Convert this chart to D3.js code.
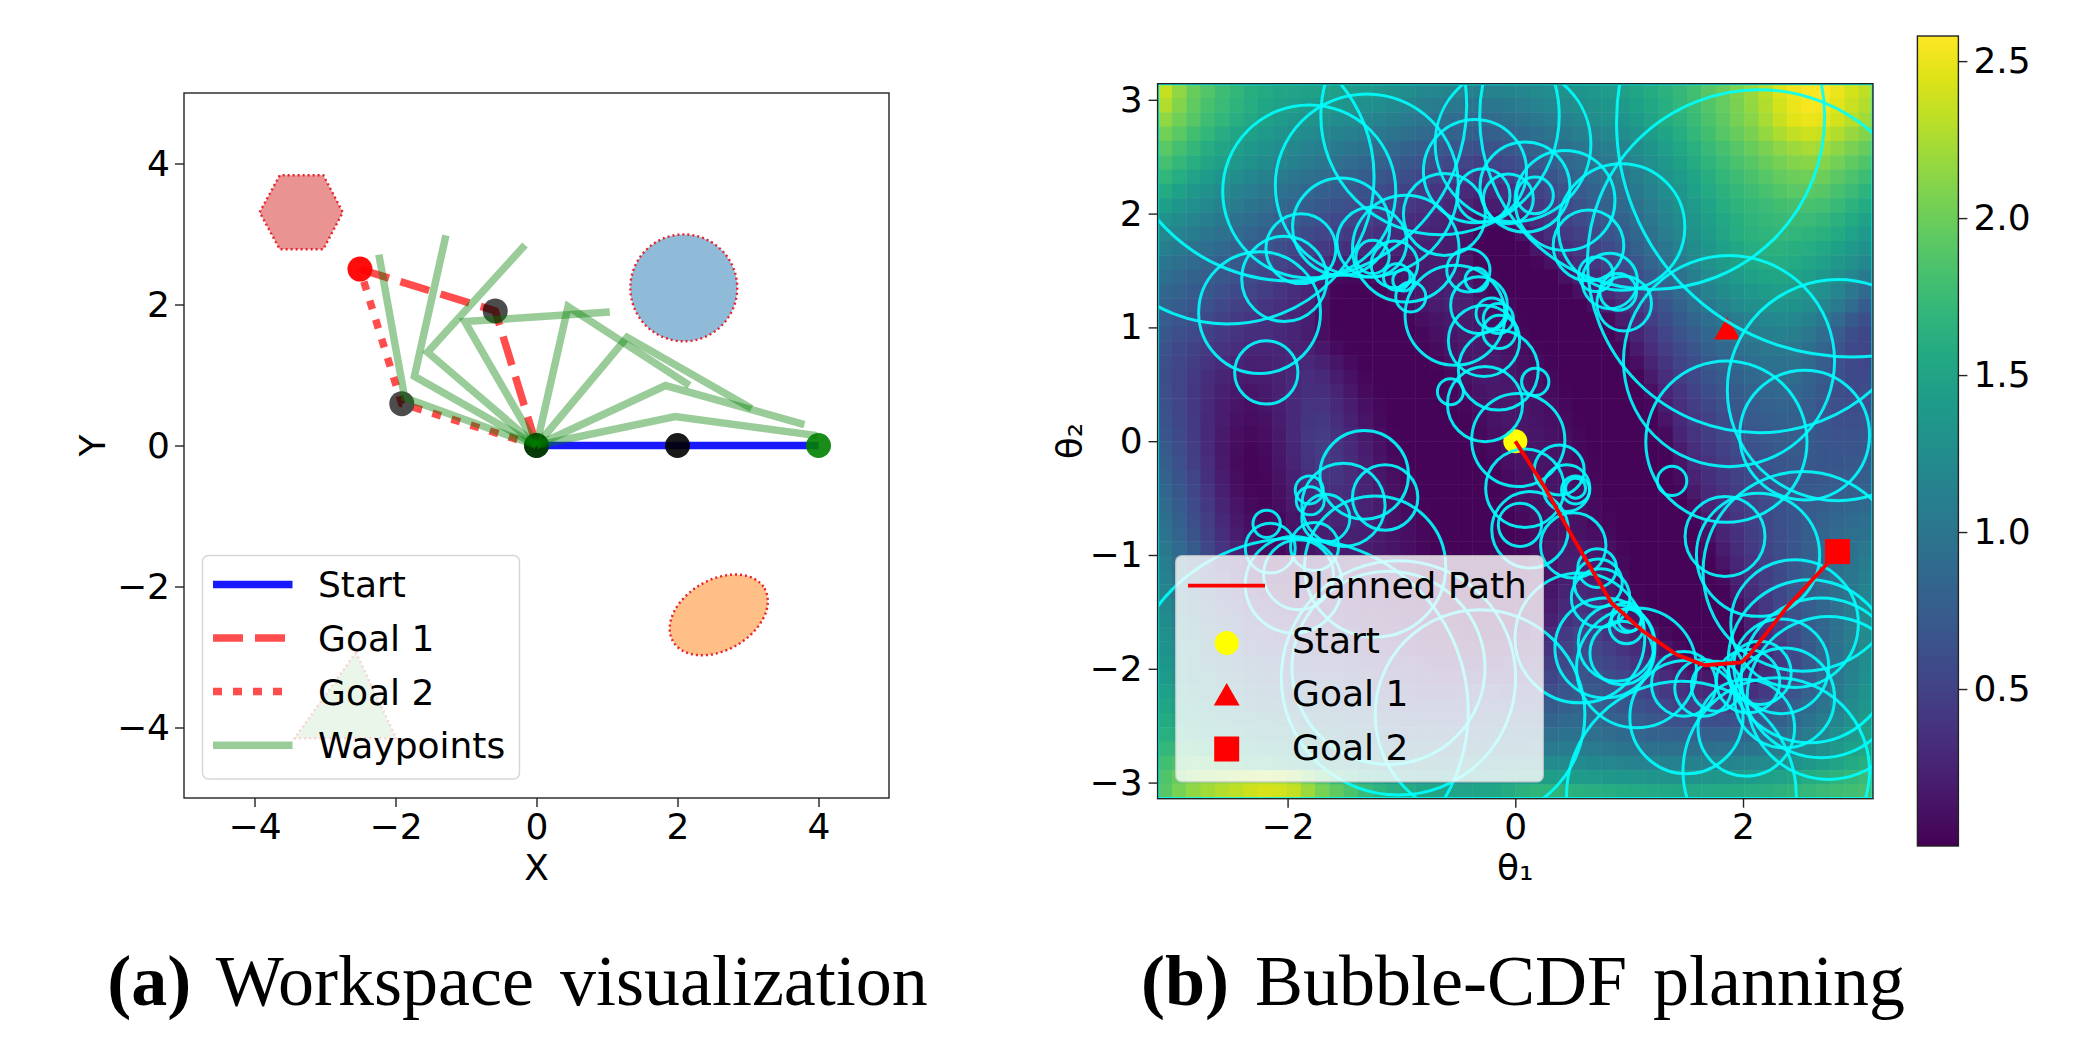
<!DOCTYPE html>
<html>
<head>
<meta charset="utf-8">
<script src="https://cdn.jsdelivr.net/npm/d3@7"></script>
<style>
  body { margin: 0; background: #fff; }
  text { font-family: "DejaVu Sans", sans-serif; }
</style>
</head>
<body>
<div id="chart"></div>
<script>
// workspace panel: link polylines as [x, y] joints
const startArm = [[0, 0], [2, 0], [4, 0]];
const goalOneArm = [[0, 0], [-0.585, 1.909], [-2.504, 2.502]];
const goalTwoArm = [[0, 0], [-1.911, 0.593], [-2.504, 2.502]];
const waypointArms = [
    [[0, 0], [1.967, 0.411], [3.98, 0.14]],
    [[0, 0], [1.83, 0.85], [3.80, 0.297]],
    [[0, 0], [1.285, 1.536], [3.05, 0.525]],
    [[0, 0], [0.447, 1.97], [2.17, 0.852]],
    [[0, 0], [-1.016, 1.757], [1.04, 1.894]],
    [[0, 0], [-1.545, 1.323], [-0.163, 2.844]],
    [[0, 0], [-1.732, 0.981], [-1.285, 2.981]],
    [[0, 0], [-1.870, 0.677], [-2.236, 2.707]]
];
const hexagonObstacle = [[-3.927, 3.308], [-3.642, 3.833], [-3.024, 3.833], [-2.748, 3.308], [-3.024, 2.783], [-3.642, 2.783]];
const triangleObstacle = [[-2.561, -2.935], [-3.431, -4.152], [-1.992, -4.152]];
const circleObstacle = [2.089, 2.236, 0.758];
const ellipseObstacle = [2.585, -2.403, 0.75, 0.5, 30];
const workspaceTicks = [-4, -2, 0, 2, 4];

// planning panel: field values x100, one row per theta2 from top to bottom
const fieldRows = [
[235,215,198,188,178,170,163,157,152,150,148,146,144,142,140,135,130,125,120,118,115,113,112,113,115,118,122,126,130,134,138,141,145,152,158,165,172,180,190,198,208,218,230,245,252,256,258,250,240,232],
[228,210,195,183,175,167,160,153,148,144,141,139,137,133,129,125,120,115,110,106,103,101,100,101,104,108,113,118,123,128,132,136,140,147,154,162,170,178,188,196,206,216,228,240,250,255,254,246,236,228],
[215,202,190,178,170,162,155,148,142,137,134,130,126,122,118,114,110,105,100,96,92,90,88,90,94,98,103,108,114,120,125,130,134,142,150,158,166,175,185,194,204,212,224,236,246,250,248,240,230,222],
[203,192,180,170,161,153,146,139,133,128,123,119,115,111,107,102,98,93,88,84,80,78,76,78,82,87,92,98,104,110,115,120,125,133,142,151,160,170,180,190,198,206,216,226,234,238,236,228,218,210],
[192,181,171,161,152,145,138,131,125,119,114,109,105,100,96,91,86,81,76,72,68,65,63,66,70,75,81,88,94,100,105,110,115,124,134,144,154,164,174,182,190,198,206,214,220,224,222,214,206,198],
[182,172,162,152,145,138,130,124,118,112,106,100,95,90,85,80,75,70,65,60,56,52,50,54,58,64,70,77,84,90,96,102,108,118,128,138,148,158,168,176,184,190,198,204,210,212,210,203,195,187],
[170,160,150,142,134,126,118,112,106,100,95,90,84,80,74,70,65,60,55,50,45,41,38,42,47,53,60,67,75,82,88,94,100,110,120,131,141,151,161,170,178,184,190,196,200,202,200,193,185,177],
[158,148,138,130,122,115,108,102,96,90,84,78,74,70,64,60,55,50,45,40,35,31,27,30,36,42,50,58,66,73,80,87,93,104,114,125,135,146,156,165,172,178,183,188,192,192,190,183,175,167],
[145,136,127,120,112,106,99,93,87,82,76,70,66,61,56,51,46,41,37,33,28,24,18,20,26,33,42,50,58,66,73,80,87,98,108,119,130,140,150,160,167,172,176,180,182,183,181,174,166,158],
[132,124,116,110,104,97,90,84,78,73,67,61,57,52,47,42,38,34,31,28,24,18,10,11,16,25,33,42,50,58,66,73,80,91,102,113,124,135,145,155,163,168,172,174,175,175,172,165,157,149],
[120,113,106,100,95,88,82,76,70,64,58,52,48,43,39,35,31,28,27,25,22,14,5,3,4,14,24,34,42,50,58,66,74,85,97,108,119,130,142,152,160,165,168,170,169,167,164,157,149,140],
[110,104,97,92,86,80,73,67,61,55,49,43,38,34,30,27,24,23,23,22,20,12,3,3,3,4,15,25,34,42,50,58,66,78,90,101,112,124,136,146,154,160,164,165,163,160,155,147,139,130],
[100,94,88,83,78,72,65,58,52,46,40,33,22,20,18,17,17,18,19,20,20,15,7,3,3,3,5,12,24,33,42,50,58,70,82,94,105,118,130,140,148,154,158,159,156,152,146,138,130,120],
[92,86,80,76,70,64,58,52,46,40,34,24,8,6,7,10,13,16,18,20,22,18,10,4,3,3,3,3,12,23,32,41,49,61,73,85,96,110,122,133,141,147,151,152,149,144,138,128,118,105],
[85,80,74,70,63,57,52,46,40,34,28,16,4,3,3,5,10,14,18,21,24,21,13,7,3,3,3,3,4,11,23,32,41,53,65,77,88,101,113,124,132,138,142,144,141,135,128,117,102,88],
[80,74,68,64,56,50,46,40,35,30,24,12,3,3,3,3,5,11,16,20,24,23,17,10,6,3,3,3,3,3,10,22,32,44,56,68,80,92,103,114,122,128,132,134,131,125,117,105,90,74],
[75,68,62,56,50,44,40,36,32,27,22,10,3,3,3,3,3,5,10,14,18,19,16,11,7,4,3,3,3,3,3,8,20,34,47,60,72,82,92,100,107,113,118,121,118,112,103,88,72,62],
[70,62,56,50,44,38,34,33,30,26,20,10,4,3,3,3,3,3,6,11,15,18,18,14,10,6,3,3,3,3,3,3,12,26,40,53,65,75,85,93,100,106,110,112,110,102,90,75,60,55],
[65,56,50,44,38,33,28,27,28,26,24,16,8,4,3,3,3,3,4,8,13,17,18,16,12,9,5,3,3,3,3,3,4,18,33,46,58,68,78,86,92,98,102,104,102,94,82,68,57,54],
[62,54,46,38,31,26,23,24,26,28,30,24,15,8,3,3,3,3,3,5,11,15,18,18,15,11,8,4,3,3,3,3,3,10,26,40,52,62,72,80,86,92,96,97,95,87,76,64,56,55],
[60,52,44,34,26,21,19,21,25,29,33,30,21,12,5,3,3,3,3,3,7,12,17,18,16,13,10,6,3,3,3,3,3,4,18,33,46,56,66,73,80,86,90,91,90,82,72,63,57,57],
[61,52,42,32,23,17,14,18,24,30,36,34,26,16,8,4,3,3,3,3,5,9,14,17,17,15,11,8,4,3,3,3,3,3,11,27,40,51,60,68,74,80,84,86,85,78,70,62,58,59],
[63,54,42,31,21,14,11,15,22,30,38,38,30,20,11,6,3,3,3,3,3,6,11,15,17,16,13,10,6,3,3,3,3,3,5,21,35,46,55,63,70,75,79,82,81,75,68,62,60,62],
[65,55,43,30,20,12,9,12,20,30,40,42,34,24,14,7,3,3,3,3,3,4,8,13,16,16,14,11,8,4,3,3,3,3,3,14,30,42,50,58,65,71,75,78,78,74,68,63,62,65],
[68,57,44,30,18,10,7,10,18,29,41,45,38,27,17,9,4,3,3,3,3,3,6,11,14,16,15,12,9,5,3,3,3,3,3,8,26,38,46,54,61,67,71,74,75,72,68,65,65,68],
[72,60,46,31,17,9,5,8,17,28,40,46,40,30,20,12,6,3,3,3,3,3,4,8,13,15,15,13,11,6,3,3,3,3,3,4,20,34,42,50,58,63,68,71,72,71,69,67,68,70],
[76,63,48,33,18,8,4,6,15,26,38,45,41,32,23,14,8,4,3,3,3,3,3,6,11,14,15,14,11,8,4,3,3,3,3,3,14,30,38,46,54,60,65,68,70,70,69,69,70,72],
[80,66,52,36,20,9,4,5,13,23,34,41,40,33,25,16,10,5,3,3,3,3,3,4,8,12,14,14,11,9,5,3,3,3,3,3,8,25,34,42,50,56,62,66,68,69,70,71,73,76],
[84,70,55,39,23,11,5,4,11,20,29,35,36,32,26,18,12,7,3,3,3,3,3,3,6,11,14,14,12,10,7,3,3,3,3,3,4,18,30,38,46,53,60,65,69,71,73,75,78,80],
[88,74,58,42,26,14,7,4,9,17,24,29,31,30,25,19,13,8,4,3,3,3,3,3,4,9,12,14,13,11,8,4,3,3,3,3,3,10,25,34,43,51,58,64,69,73,76,80,83,86],
[93,78,62,46,30,17,9,5,7,14,20,24,26,26,24,19,14,9,5,3,3,3,3,3,3,7,11,13,14,12,8,5,3,3,3,3,3,5,18,30,40,49,56,63,69,74,79,84,88,92],
[98,82,66,50,34,20,11,6,6,11,16,20,22,23,22,18,14,10,6,3,3,3,3,3,3,5,9,12,14,13,10,7,3,3,3,3,3,3,12,26,36,46,54,62,69,76,82,88,93,97],
[103,88,72,55,39,25,14,8,6,9,13,17,19,20,20,17,14,10,6,3,3,3,3,3,3,4,10,15,19,20,16,11,5,3,3,3,3,3,6,21,32,43,52,60,69,77,84,90,96,102],
[108,93,77,60,44,30,18,11,8,9,12,15,17,18,18,16,13,10,6,3,3,3,3,3,3,3,8,14,20,22,18,13,7,3,3,3,3,3,3,14,28,39,49,59,68,77,85,92,99,106],
[112,98,82,65,49,35,24,16,12,11,12,14,15,16,16,15,12,9,5,3,3,3,3,3,3,3,6,14,22,25,21,15,9,3,3,3,3,3,3,8,24,36,46,57,67,76,85,93,101,110],
[116,102,87,71,55,42,31,23,18,16,16,16,16,16,15,14,11,8,5,3,3,3,3,3,3,3,6,15,25,30,26,19,12,5,3,3,3,3,3,4,18,32,44,55,66,76,85,94,103,114],
[120,107,93,78,63,50,39,31,26,23,22,21,20,19,17,15,12,9,5,3,3,3,3,3,3,4,9,19,30,37,33,25,16,8,3,3,3,3,3,3,11,27,41,54,65,75,85,95,105,118],
[124,112,99,85,71,59,48,40,35,32,30,28,26,24,21,18,15,11,7,5,4,3,3,3,3,6,13,24,36,44,40,32,23,15,7,3,3,3,3,3,6,23,38,51,63,74,85,96,107,120],
[128,117,105,92,79,67,57,49,44,41,38,36,33,30,27,23,19,15,11,9,8,7,6,6,7,11,19,31,43,52,48,40,32,24,15,7,3,3,3,3,3,18,33,47,60,72,84,96,108,122],
[132,122,111,99,87,76,66,58,53,49,46,44,41,38,34,30,25,21,17,15,14,14,14,14,15,18,26,38,50,58,54,47,39,32,24,15,8,3,3,3,3,14,29,44,58,71,84,97,110,124],
[136,127,117,106,95,85,75,67,62,58,55,52,50,47,43,38,33,29,25,22,22,23,24,24,25,28,35,46,56,63,60,54,47,40,32,24,16,9,5,5,6,14,27,42,56,70,84,98,112,125],
[140,132,123,113,103,94,85,77,71,67,64,62,59,56,52,47,42,38,34,32,32,34,36,36,36,39,45,53,62,68,66,60,54,47,40,32,25,19,16,15,17,22,32,44,58,72,86,100,114,127],
[146,139,130,121,112,104,95,88,82,78,75,72,69,66,61,56,51,47,44,43,43,46,49,49,48,50,55,61,69,73,71,66,61,55,49,43,37,32,29,29,31,36,44,55,67,79,91,104,117,130],
[152,146,138,130,122,114,106,99,94,90,86,83,80,76,71,66,61,57,54,54,54,57,61,62,61,62,66,71,77,80,77,73,69,64,59,54,50,47,46,46,48,52,58,66,76,87,98,109,122,135],
[158,153,147,140,133,125,118,112,107,103,99,95,91,87,82,77,72,68,65,65,66,69,72,74,73,74,78,82,86,88,85,81,78,74,70,66,64,62,61,62,64,67,72,78,87,96,106,117,129,140],
[164,161,157,151,145,138,132,126,121,117,113,108,104,99,94,89,84,80,77,77,78,81,84,86,86,86,90,93,96,97,94,90,87,84,81,79,78,77,77,78,80,82,86,91,98,106,116,127,138,146],
[172,172,170,165,160,153,147,142,137,132,128,123,118,113,108,103,98,94,91,91,92,95,98,100,100,100,103,105,107,107,105,102,99,97,95,94,93,93,94,95,97,99,102,107,113,120,128,137,146,152],
[180,185,188,186,181,172,165,160,155,150,146,140,135,130,124,119,114,110,108,108,110,112,115,117,118,119,120,122,123,122,120,118,116,114,113,112,112,112,113,115,117,119,122,126,131,137,143,150,156,162],
[186,198,208,214,218,222,226,228,226,218,202,186,172,162,152,145,139,134,131,130,131,133,135,138,141,143,143,143,143,142,140,138,136,135,134,133,133,134,135,137,139,142,145,149,153,158,162,166,170,175],
[190,205,215,222,228,232,238,242,240,235,220,205,195,185,175,168,162,158,153,152,150,150,151,153,158,165,168,168,166,164,162,160,158,157,156,155,154,155,156,157,158,160,162,165,168,172,175,178,180,182]
];

// bubbles as [theta1, theta2, radius]
const bubbles = [
[-1.968,2.949,1.541],[-2.529,2.320,1.289],[-1.810,2.195,0.760],[-1.304,2.247,0.804],[-0.661,2.861,1.047],
[-0.020,2.613,0.684],[-2.246,1.130,0.535],[-2.029,1.426,0.374],[-1.883,1.692,0.307],[-2.187,0.604,0.278],
[-1.529,1.885,0.427],[-1.260,1.750,0.307],[-0.623,1.993,0.360],[-0.354,2.373,0.453],[-0.962,1.692,0.468],
[-1.254,1.619,0.146],[-1.061,1.554,0.205],[-1.041,1.443,0.117],[-0.982,1.414,0.094],[-0.918,1.268,0.132],
[-0.412,1.502,0.190],[-0.339,1.420,0.102],[-0.319,1.195,0.249],[-0.208,1.122,0.137],[-0.149,1.078,0.132],
[-0.140,0.961,0.146],[-0.529,1.107,0.439],[-0.275,0.882,0.313],[-0.149,0.625,0.351],[-0.266,0.326,0.330],
[-0.570,0.435,0.114],[0.026,0.011,0.409],[-0.061,2.130,0.219],[-0.281,2.160,0.234],[0.173,2.160,0.161],
[2.950,2.803,2.061],[1.202,2.850,1.515],[2.140,1.581,1.506],[1.877,0.704,0.927],[2.833,0.449,0.971],
[1.854,-0.004,0.708],[2.541,0.054,0.570],[0.085,2.233,0.395],[0.436,2.116,0.439],[0.643,1.721,0.310],
[0.933,1.882,0.556],[0.708,1.467,0.152],[0.830,1.408,0.243],[0.904,1.312,0.161],[0.956,1.209,0.240],
[0.175,0.522,0.120],[-1.327,-0.296,0.389],[-1.143,-0.495,0.287],[-1.509,-0.560,0.365],[-1.810,-0.428,0.123],
[-1.801,-0.524,0.123],[-1.664,-0.677,0.211],[-1.231,-1.101,0.620],[-2.184,-0.726,0.120],[-2.152,-0.940,0.219],
[-1.904,-1.174,0.307],[-1.763,-0.925,0.211],[-1.933,-2.373,1.520],[-1.026,-2.080,1.029],[-1.114,-1.992,0.848],
[-0.310,-2.402,0.921],[-1.947,-1.261,0.424],[0.386,-0.253,0.219],[0.529,-0.428,0.123],[0.529,-0.413,0.088],
[0.450,-0.413,0.205],[0.085,-0.413,0.345],[0.041,-0.735,0.190],[0.129,-0.779,0.336],[0.509,-0.916,0.287],
[0.719,-1.115,0.170],[0.728,-1.247,0.211],[0.749,-1.378,0.257],[0.977,-1.548,0.132],[0.977,-1.627,0.152],
[1.006,-1.568,0.102],[0.787,-1.817,0.439],[0.889,-1.773,0.336],[0.933,-1.861,0.278],[0.567,-1.729,0.570],
[1.503,-2.425,0.497],[1.480,-2.133,0.284],[1.064,-1.992,0.526],[1.766,-2.153,0.219],[2.029,-2.519,0.424],
[2.044,-2.109,0.278],[2.146,-2.036,0.277],[2.336,-1.978,0.416],[2.453,-1.603,0.560],
[2.585,-1.934,0.716],[2.687,-2.080,0.702],[2.365,-2.256,0.439],[1.459,-3.118,1.009],[2.292,-2.899,0.819],
[1.842,-0.837,0.351],[2.132,-0.998,0.541],[2.526,-1.144,0.877],[1.377,-0.349,0.129],
[1.649,-2.168,0.249],[2.752,-2.256,0.716]
];
const plannedPath = [[0,0],[0.246,-0.384],[0.509,-0.852],[0.845,-1.422],[1.123,-1.671],[1.415,-1.875],[1.664,-1.969],[1.985,-1.943],[2.058,-1.875],[2.380,-1.466],[2.731,-1.086],[2.833,-0.969]];
const startPoint = [0, 0];
const goalOnePoint = [1.86, 0.96];
const goalTwoPoint = [2.83, -0.97];
const thetaXTicks = [-2, 0, 2];
const thetaYTicks = [-3, -2, -1, 0, 1, 2, 3];
const colorbarTicks = [0.5, 1.0, 1.5, 2.0, 2.5];
const colorbarRange = [0, 2.58];

const svg = d3.select("#chart").append("svg").attr("width", 2076).attr("height", 1052);
const fontSize = 36;

function styleAxis(g) {
    g.select(".domain").remove();
    g.selectAll("line").attr("stroke", "#222").attr("stroke-width", 1.4);
    g.selectAll("text").attr("fill", "#000").style("font-size", fontSize + "px");
}

function drawLegendBox(g, x, y, w, h) {
    g.append("rect").attr("x", x).attr("y", y).attr("width", w).attr("height", h).attr("rx", 6)
        .attr("fill", "#fff").attr("fill-opacity", 0.8)
        .attr("stroke", "#ccc").attr("stroke-opacity", 0.8).attr("stroke-width", 1.4);
}

function drawWorkspace() {
    const x = d3.scaleLinear().domain([-5, 5]).range([184, 889]);
    const y = d3.scaleLinear().domain([-5, 5]).range([798, 93]);
    const g = svg.append("g");
    const line = d3.line().x(d => x(d[0])).y(d => y(d[1]));
    const patch = sel => sel.attr("stroke", "#e8212b").attr("stroke-width", 2.4).attr("stroke-dasharray", "2 3");

    g.append("path").attr("d", line(hexagonObstacle) + "Z").attr("fill", "#d62728").attr("fill-opacity", 0.5).call(patch);
    g.append("circle").attr("cx", x(circleObstacle[0])).attr("cy", y(circleObstacle[1]))
        .attr("r", x(circleObstacle[2]) - x(0)).attr("fill", "#1f77b4").attr("fill-opacity", 0.5).call(patch);
    g.append("ellipse").attr("cx", x(ellipseObstacle[0])).attr("cy", y(ellipseObstacle[1]))
        .attr("rx", x(ellipseObstacle[2]) - x(0)).attr("ry", x(ellipseObstacle[3]) - x(0))
        .attr("transform", `rotate(${-ellipseObstacle[4]} ${x(ellipseObstacle[0])} ${y(ellipseObstacle[1])})`)
        .attr("fill", "#ff7f0e").attr("fill-opacity", 0.5).call(patch);
    g.append("path").attr("d", line(triangleObstacle) + "Z").attr("fill", "#2ca02c").attr("fill-opacity", 0.5).call(patch);

    const arm = (pts, color, alpha, dash) => g.append("path").attr("d", line(pts)).attr("fill", "none")
        .attr("stroke", color).attr("stroke-opacity", alpha).attr("stroke-width", 7.5)
        .attr("stroke-dasharray", dash);
    arm(startArm, "#0000ff", 0.9, null);
    arm(goalOneArm, "#ff0000", 0.7, "30 12");
    arm(goalTwoArm, "#ff0000", 0.7, "9 11");

    const dot = (p, color, alpha) => g.append("circle").attr("cx", x(p[0])).attr("cy", y(p[1])).attr("r", 12.5)
        .attr("fill", color).attr("fill-opacity", alpha);
    dot(startArm[0], "#000", 0.95);
    dot(startArm[1], "#000", 0.9);
    dot(goalOneArm[1], "#000", 0.7);
    dot(goalTwoArm[1], "#000", 0.7);
    dot(goalOneArm[2], "#ff0000", 0.95);
    dot(startArm[2], "#008000", 0.9);
    dot(startArm[0], "#008000", 0.4);

    waypointArms.forEach(pts => arm(pts, "#008000", 0.4, null));

    g.append("rect").attr("x", 184).attr("y", 93).attr("width", 705).attr("height", 705)
        .attr("fill", "none").attr("stroke", "#222").attr("stroke-width", 1.4);

    g.append("g").attr("transform", "translate(0,798)")
        .call(d3.axisBottom(x).tickValues(workspaceTicks).tickFormat(d3.format("d")).tickSize(9).tickPadding(6)).call(styleAxis);
    g.append("g").attr("transform", "translate(184,0)")
        .call(d3.axisLeft(y).tickValues(workspaceTicks).tickFormat(d3.format("d")).tickSize(9).tickPadding(5)).call(styleAxis);

    g.append("text").attr("x", 536.5).attr("y", 880).attr("text-anchor", "middle").style("font-size", fontSize + "px").text("X");
    g.append("text").attr("transform", "translate(105,445.5) rotate(-90)").attr("text-anchor", "middle").style("font-size", fontSize + "px").text("Y");

    const legend = g.append("g");
    drawLegendBox(legend, 202.5, 555.5, 317, 223.5);
    const rows = [
        ["Start", "#0000ff", 0.9, null],
        ["Goal 1", "#ff0000", 0.7, "30 12"],
        ["Goal 2", "#ff0000", 0.7, "9 11"],
        ["Waypoints", "#008000", 0.4, null]
    ];
    rows.forEach((r, i) => {
        const ly = 584.4 + i * 53.6;
        legend.append("line").attr("x1", 213).attr("x2", 292.5).attr("y1", ly).attr("y2", ly)
            .attr("stroke", r[1]).attr("stroke-opacity", r[2]).attr("stroke-width", 7.5).attr("stroke-dasharray", r[3]);
        legend.append("text").attr("x", 318).attr("y", ly + 13).style("font-size", fontSize + "px").text(r[0]);
    });
}

function drawPlanning() {
    const x = d3.scaleLinear().domain([-Math.PI, Math.PI]).range([1157.6, 1873]);
    const y = d3.scaleLinear().domain([-Math.PI, Math.PI]).range([798.7, 83.7]);
    const color = d3.scaleSequential(d3.interpolateViridis).domain(colorbarRange);
    const cols = d3.scaleBand().domain(d3.range(fieldRows[0].length)).range([1157.6, 1873]);
    const rows = d3.scaleBand().domain(d3.range(fieldRows.length)).range([83.7, 798.7]);
    const g = svg.append("g");

    svg.append("clipPath").attr("id", "plot-clip").append("rect")
        .attr("x", 1157.6).attr("y", 83.7).attr("width", 715.4).attr("height", 715);

    const field = g.append("g").attr("clip-path", "url(#plot-clip)");
    fieldRows.forEach((row, j) => {
        field.append("g").selectAll("rect").data(row).enter().append("rect")
            .attr("x", (d, i) => cols(i)).attr("y", rows(j))
            .attr("width", cols.bandwidth() + 0.5).attr("height", rows.bandwidth() + 0.5)
            .attr("fill", d => color(d / 100));
    });

    const plot = g.append("g").attr("clip-path", "url(#plot-clip)");
    const marker = d3.symbol();
    plot.append("circle").attr("cx", x(startPoint[0])).attr("cy", y(startPoint[1])).attr("r", 12).attr("fill", "#ffff00");
    plot.append("path").attr("transform", `translate(${x(goalOnePoint[0])},${y(goalOnePoint[1])})`)
        .attr("d", marker.type(d3.symbolTriangle).size(290)()).attr("fill", "#ff0000");
    plot.append("rect").attr("x", x(goalTwoPoint[0]) - 12.5).attr("y", y(goalTwoPoint[1]) - 12.5)
        .attr("width", 25).attr("height", 25).attr("fill", "#ff0000");

    plot.selectAll("circle.bubble").data(bubbles).enter().append("circle").attr("class", "bubble")
        .attr("cx", d => x(d[0])).attr("cy", d => y(d[1]))
        .attr("r", d => x(d[2]) - x(0))
        .attr("fill", "none").attr("stroke", "#00ffff").attr("stroke-opacity", 0.9).attr("stroke-width", 3);

    plot.append("rect").attr("x", 1157.6).attr("y", 83.7).attr("width", 715.4).attr("height", 715)
        .attr("fill", "none").attr("stroke", "#00ffff").attr("stroke-width", 3);

    const line = d3.line().x(d => x(d[0])).y(d => y(d[1]));
    plot.append("path").attr("d", line(plannedPath)).attr("fill", "none").attr("stroke", "#ff0000").attr("stroke-width", 3.8);

    g.append("rect").attr("x", 1157.6).attr("y", 83.7).attr("width", 715.4).attr("height", 715)
        .attr("fill", "none").attr("stroke", "#222").attr("stroke-width", 1.4);

    g.append("g").attr("transform", "translate(0,798.7)")
        .call(d3.axisBottom(x).tickValues(thetaXTicks).tickFormat(d3.format("d")).tickSize(9).tickPadding(6)).call(styleAxis);
    g.append("g").attr("transform", "translate(1157.6,0)")
        .call(d3.axisLeft(y).tickValues(thetaYTicks).tickFormat(d3.format("d")).tickSize(9).tickPadding(6)).call(styleAxis);

    g.append("text").attr("x", 1515.3).attr("y", 880).attr("text-anchor", "middle").style("font-size", fontSize + "px").text("θ₁");
    g.append("text").attr("transform", "translate(1082,441) rotate(-90)").attr("text-anchor", "middle").style("font-size", fontSize + "px").text("θ₂");

    const legend = g.append("g");
    drawLegendBox(legend, 1175.7, 555.7, 367.6, 226);
    const labelY = [598, 653, 706, 760];
    ["Planned Path", "Start", "Goal 1", "Goal 2"].forEach((t, i) => {
        legend.append("text").attr("x", 1292).attr("y", labelY[i]).style("font-size", fontSize + "px").text(t);
    });
    legend.append("line").attr("x1", 1188).attr("x2", 1265).attr("y1", 585.7).attr("y2", 585.7)
        .attr("stroke", "#ff0000").attr("stroke-width", 3.8);
    legend.append("circle").attr("cx", 1226.7).attr("cy", 643).attr("r", 12).attr("fill", "#ffff00");
    legend.append("path").attr("transform", "translate(1226.7,698)")
        .attr("d", marker.type(d3.symbolTriangle).size(290)()).attr("fill", "#ff0000");
    legend.append("rect").attr("x", 1214.2).attr("y", 736.5).attr("width", 25).attr("height", 25).attr("fill", "#ff0000");

    // colorbar
    const bar = d3.scaleLinear().domain(colorbarRange).range([846, 36]);
    const defs = svg.append("defs");
    const grad = defs.append("linearGradient").attr("id", "viridis-bar").attr("x1", 0).attr("x2", 0).attr("y1", 1).attr("y2", 0);
    d3.range(0, 1.001, 0.05).forEach(t => grad.append("stop").attr("offset", t).attr("stop-color", d3.interpolateViridis(t)));
    g.append("rect").attr("x", 1917.4).attr("y", 36).attr("width", 41).attr("height", 810)
        .attr("fill", "url(#viridis-bar)").attr("stroke", "#222").attr("stroke-width", 1.4);
    g.append("g").attr("transform", "translate(1958.4,0)")
        .call(d3.axisRight(bar).tickValues(colorbarTicks).tickFormat(d3.format(".1f")).tickSize(9).tickPadding(6)).call(styleAxis);
}

function drawCaptions() {
    const caption = (cx, tag, body) => {
        const t = svg.append("text").attr("x", cx).attr("y", 1005).attr("text-anchor", "middle")
            .style("font-family", '"Liberation Serif", serif').style("font-size", "72px")
            .style("word-spacing", "8px").attr("fill", "#000");
        t.append("tspan").style("font-weight", "bold").text(tag);
        t.append("tspan").text(" " + body);
    };
    caption(517.5, "(a)", "Workspace visualization");
    caption(1523, "(b)", "Bubble-CDF planning");
}

drawWorkspace();
drawPlanning();
drawCaptions();
</script>
</body>
</html>
